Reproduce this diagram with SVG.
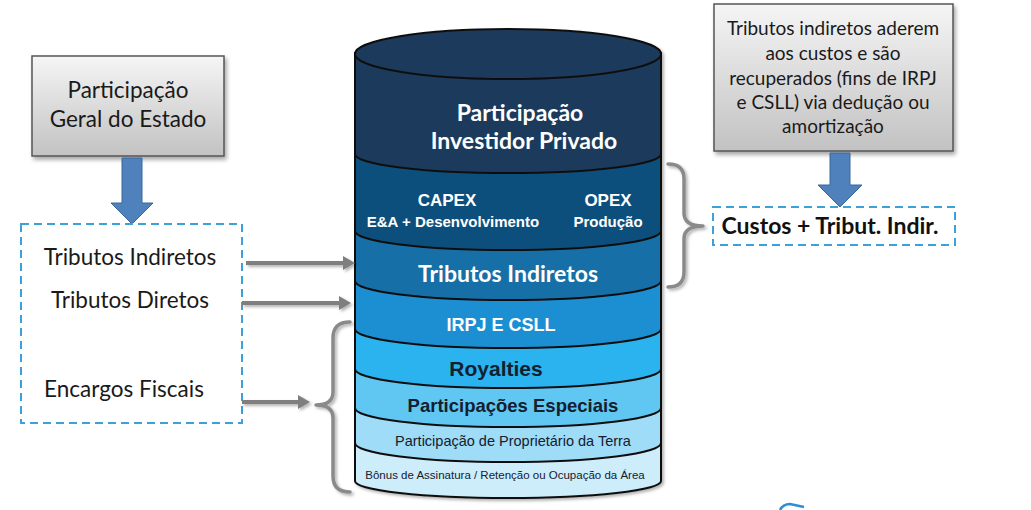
<svg xmlns="http://www.w3.org/2000/svg" width="1031" height="510" viewBox="0 0 1031 510">
<defs>
  <linearGradient id="grayGrad" x1="0" y1="0" x2="0" y2="1">
    <stop offset="0" stop-color="#f5f5f5"/>
    <stop offset="1" stop-color="#c2c2c2"/>
  </linearGradient>
  <filter id="shadow" x="-10%" y="-10%" width="130%" height="130%">
    <feDropShadow dx="2" dy="3" stdDeviation="2" flood-color="#000" flood-opacity="0.35"/>
  </filter>
  <filter id="softShadow" x="-20%" y="-20%" width="150%" height="150%">
    <feDropShadow dx="2" dy="2" stdDeviation="1.5" flood-color="#000" flood-opacity="0.3"/>
  </filter>
  <marker id="grayArrow" markerUnits="userSpaceOnUse" markerWidth="13" markerHeight="14" refX="0" refY="7" orient="auto">
    <path d="M0,0 L12,7 L0,14 Z" fill="#7f7f7f"/>
  </marker>
</defs>
<style>
  .band { stroke: #111; stroke-width: 2; }
  .calW { font-family: Lato, "Open Sans", sans-serif; font-weight: 700; font-size: 23px; fill: #ffffff; text-anchor: middle; }
  .arB { font-family: "Liberation Sans", Arial, sans-serif; font-weight: 700; text-anchor: middle; }
  .arR { font-family: "Liberation Sans", Arial, sans-serif; font-weight: 400; text-anchor: middle; fill: #14202e; }
  .lbl { font-family: Lato, "Open Sans", sans-serif; font-size: 22.5px; fill: #1a1a1a; text-anchor: middle; }
  .note { font-family: Lato, "Open Sans", sans-serif; font-size: 19px; fill: #1a1a1a; text-anchor: middle; }
  .grayBox { fill: url(#grayGrad); stroke: #555; stroke-width: 1.5; }
  .dashBox { fill: #ffffff; stroke: #3da0d8; stroke-width: 2; stroke-dasharray: 8 5; }
  .blueArrow { fill: #4f81bd; stroke: #3b679b; stroke-width: 1; }
  .conn { stroke: #7f7f7f; stroke-width: 4; fill: none; }
  .brace { stroke: #8a8a8a; stroke-width: 3.5; fill: none; stroke-linecap: round; stroke-linejoin: round; }
</style>

<!-- Cylinder -->
<g id="cylinder" filter="url(#softShadow)">
  <g id="band-bonus">
    <path class="band" fill="#cdedfb" d="M355,53 L355,481 A153,17 0 0 0 661,481 L661,53 Z"/>
  </g>
  <g id="band-proprietario">
    <path class="band" fill="#9fdcf7" d="M355,53 L355,443 A153,19 0 0 0 661,443 L661,53 Z"/>
  </g>
  <g id="band-especiais">
    <path class="band" fill="#5ec7f2" d="M355,53 L355,408 A153,19 0 0 0 661,408 L661,53 Z"/>
  </g>
  <g id="band-royalties">
    <path class="band" fill="#2ab3ef" d="M355,53 L355,369 A153,19 0 0 0 661,369 L661,53 Z"/>
  </g>
  <g id="band-irpj">
    <path class="band" fill="#1b8fd2" d="M355,53 L355,329 A153,19 0 0 0 661,329 L661,53 Z"/>
  </g>
  <g id="band-tributos">
    <path class="band" fill="#146fa7" d="M355,53 L355,281 A153,19 0 0 0 661,281 L661,53 Z"/>
  </g>
  <g id="band-capex">
    <path class="band" fill="#10507c" d="M355,53 L355,231 A153,19 0 0 0 661,231 L661,53 Z"/>
  </g>
  <g id="band-investidor">
    <path class="band" fill="#1f3a5c" d="M355,53 L355,154 A153,19 0 0 0 661,154 L661,53 Z"/>
    <ellipse class="band" cx="508" cy="54" rx="153" ry="25" fill="#1f3a5c"/>
  </g>
</g>
<g id="cylinder-labels">
  <text class="calW" x="520" y="121">Participação</text>
  <text class="calW" x="524" y="149">Investidor Privado</text>
  <text class="arB" x="447" y="206" font-size="17" fill="#ffffff">CAPEX</text>
  <text class="arB" x="453" y="227" font-size="15" fill="#ffffff">E&amp;A + Desenvolvimento</text>
  <text class="arB" x="608" y="206" font-size="17" fill="#ffffff">OPEX</text>
  <text class="arB" x="608" y="227" font-size="15" fill="#ffffff">Produção</text>
  <text class="calW" x="508" y="282">Tributos Indiretos</text>
  <text class="arB" x="501" y="331" font-size="18" fill="#ffffff">IRPJ E CSLL</text>
  <text class="arB" x="496" y="376" font-size="21" fill="#14202e">Royalties</text>
  <text class="arB" x="513" y="412" font-size="18.5" fill="#14202e">Participações Especiais</text>
  <text class="arR" x="513" y="446" font-size="14.5">Participação de Proprietário da Terra</text>
  <text class="arR" x="505" y="479" font-size="11.5">Bônus de Assinatura / Retenção ou Ocupação da Área</text>
</g>

<!-- Left: Participação Geral do Estado -->
<g id="estado-box">
  <rect class="grayBox" x="32" y="56" width="192" height="100" filter="url(#shadow)"/>
  <text class="lbl" x="128" y="98">Participação</text>
  <text class="lbl" x="128" y="127">Geral do Estado</text>
</g>
<g id="estado-arrow">
  <polygon class="blueArrow" points="122,158 142,158 142,203 153,203 132,224 111,203 122,203"/>
</g>
<g id="tributos-box">
  <rect class="dashBox" x="21" y="224" width="221" height="199"/>
  <text class="lbl" x="130" y="265">Tributos Indiretos</text>
  <text class="lbl" x="130" y="308">Tributos Diretos</text>
  <text class="lbl" x="124" y="397">Encargos Fiscais</text>
</g>

<!-- Right: note box -->
<g id="note-box">
  <rect class="grayBox" x="714" y="4" width="239" height="147" filter="url(#shadow)"/>
  <text class="note" x="833" y="35">Tributos indiretos aderem</text>
  <text class="note" x="833" y="60">aos custos e são</text>
  <text class="note" x="833" y="85">recuperados (fins de IRPJ</text>
  <text class="note" x="833" y="109">e CSLL) via dedução ou</text>
  <text class="note" x="833" y="133">amortização</text>
</g>
<g id="note-arrow">
  <polygon class="blueArrow" points="830,153 850,153 850,185 862,185 840,207 818,185 830,185"/>
</g>
<g id="custos-box">
  <rect class="dashBox" x="713" y="207" width="242" height="38"/>
  <text x="830" y="234" font-family="Lato, 'Open Sans', sans-serif" font-weight="700" font-size="23" fill="#111" text-anchor="middle">Custos + Tribut. Indir.</text>
</g>

<!-- Connectors -->
<g id="connectors" filter="url(#softShadow)">
  <line class="conn" x1="246" y1="263" x2="343" y2="263" marker-end="url(#grayArrow)"/>
  <line class="conn" x1="242" y1="303" x2="339" y2="303" marker-end="url(#grayArrow)"/>
  <line class="conn" x1="242" y1="402" x2="298" y2="402" marker-end="url(#grayArrow)"/>
  <path class="brace" d="M350,322 Q333,322 333,338 L333,392 Q333,405 316,405 Q333,405 333,418 L333,476 Q333,492 350,492"/>
  <path class="brace" d="M668,164 Q684,164 684,179 L684,213 Q684,226 703,226 Q684,226 684,239 L684,272 Q684,287 668,287"/>
</g>

<path d="M780,510 Q783,504 790,504 L804,507" fill="none" stroke="#2a8fd6" stroke-width="2.5"/>
</svg>
